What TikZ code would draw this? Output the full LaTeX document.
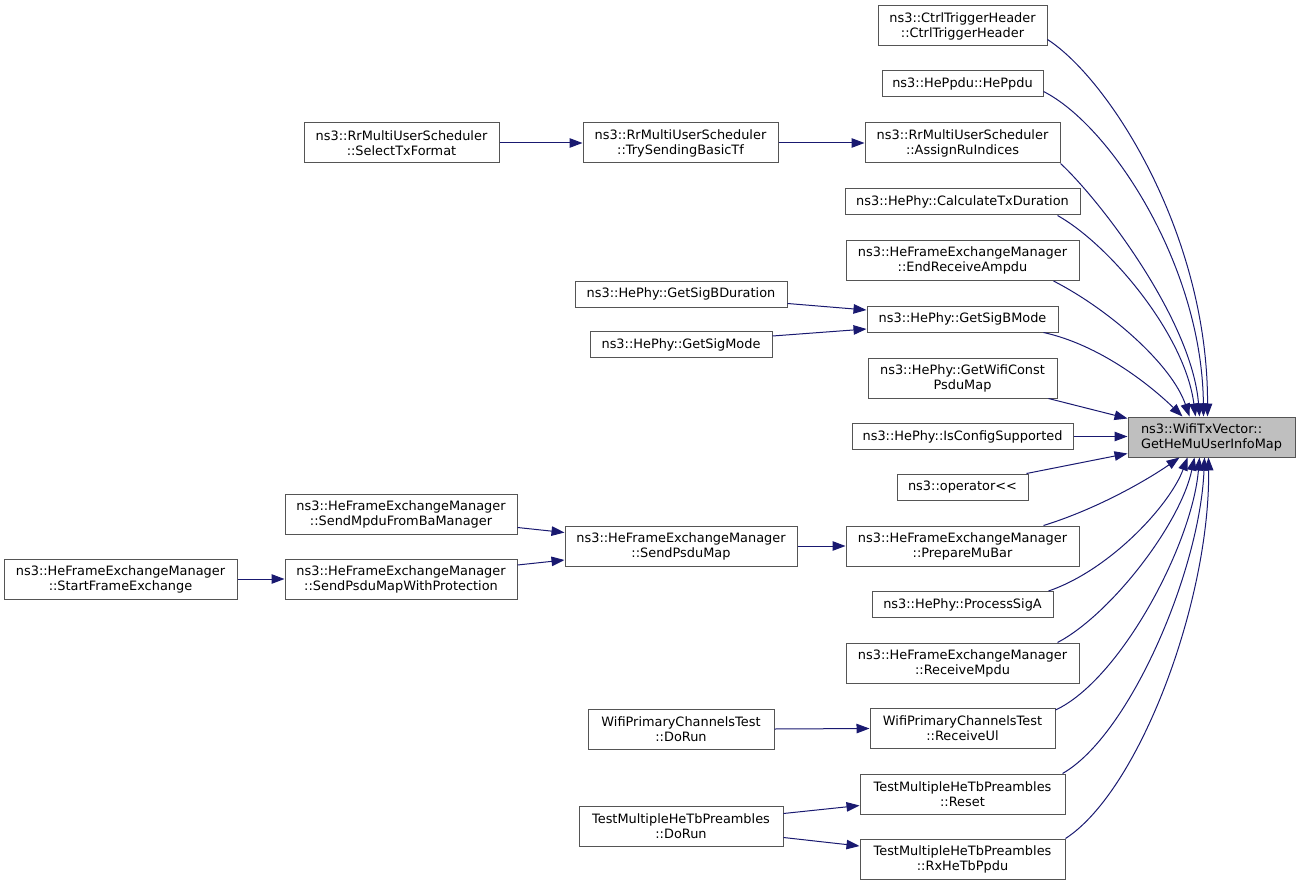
\documentclass[tikz,border=0pt]{standalone}
\usepackage{fontspec}
\setmainfont{DejaVu Sans}
\usetikzlibrary{arrows.meta,calc}
\definecolor{edgec}{HTML}{191970}
\definecolor{boxc}{HTML}{555555}
\definecolor{rootfill}{HTML}{BFBFBF}
\tikzset{
  fn/.style={draw=boxc, line width=1pt, fill=white, inner sep=0pt, align=center,
    font=\fontsize{12.9}{15}\selectfont, text=black},
  root/.style={fn, fill=rootfill, align=left},
  call/.style={draw=edgec, line width=1pt, -{Triangle[length=13pt,width=9.5pt]}}
}
\begin{document}
\begin{tikzpicture}[x=1pt,y=-1pt]
\useasboundingbox (0,0) rectangle (1300,885);
% target
\node[root, minimum width=167pt, minimum height=40pt] (t) at (1211.5,437) {ns3::WifiTxVector::\\GetHeMuUserInfoMap};
% right column
\node[fn, minimum width=169pt, minimum height=40pt] (ctrl) at (962.5,26) {ns3::CtrlTriggerHeader\\::CtrlTriggerHeader};
\node[fn, minimum width=161pt, minimum height=26pt] (heppdu) at (962.5,84) {ns3::HePpdu::HePpdu};
\node[fn, minimum width=195pt, minimum height=40pt] (assign) at (962.5,143) {ns3::RrMultiUserScheduler\\::AssignRuIndices};
\node[fn, minimum width=235pt, minimum height=26pt] (calc) at (962.5,202) {ns3::HePhy::CalculateTxDuration};
\node[fn, minimum width=233pt, minimum height=40pt] (endrecv) at (962.5,260.5) {ns3::HeFrameExchangeManager\\::EndReceiveAmpdu};
\node[fn, minimum width=191pt, minimum height=26pt] (sigb) at (962.5,319) {ns3::HePhy::GetSigBMode};
\node[fn, minimum width=189pt, minimum height=40pt] (const) at (962.5,378) {ns3::HePhy::GetWifiConst\\PsduMap};
\node[fn, minimum width=221pt, minimum height=26pt] (isconf) at (962.5,436.5) {ns3::HePhy::IsConfigSupported};
\node[fn, minimum width=131pt, minimum height=26pt] (oper) at (962.5,487) {ns3::operator<\kern0pt<};
\node[fn, minimum width=233pt, minimum height=40pt] (prep) at (962.5,546) {ns3::HeFrameExchangeManager\\::PrepareMuBar};
\node[fn, minimum width=181pt, minimum height=26pt] (procA) at (962.5,604.5) {ns3::HePhy::ProcessSigA};
\node[fn, minimum width=233pt, minimum height=40pt] (recvM) at (962.5,663) {ns3::HeFrameExchangeManager\\::ReceiveMpdu};
\node[fn, minimum width=185pt, minimum height=40pt] (recvUl) at (962.5,728.5) {WifiPrimaryChannelsTest\\::ReceiveUl};
\node[fn, minimum width=205pt, minimum height=40pt] (reset) at (962.5,794) {TestMultipleHeTbPreambles\\::Reset};
\node[fn, minimum width=205pt, minimum height=40pt] (rxhe) at (962.5,859) {TestMultipleHeTbPreambles\\::RxHeTbPpdu};
% middle column
\node[fn, minimum width=195pt, minimum height=40pt] (try) at (680.5,143) {ns3::RrMultiUserScheduler\\::TrySendingBasicTf};
\node[fn, minimum width=212pt, minimum height=26pt] (sigbdur) at (681,294) {ns3::HePhy::GetSigBDuration};
\node[fn, minimum width=182pt, minimum height=26pt] (sigmode) at (681,344.5) {ns3::HePhy::GetSigMode};
\node[fn, minimum width=232pt, minimum height=40pt] (sendpsdu) at (681,546) {ns3::HeFrameExchangeManager\\::SendPsduMap};
\node[fn, minimum width=186pt, minimum height=40pt] (wpdorun) at (681,729) {WifiPrimaryChannelsTest\\::DoRun};
\node[fn, minimum width=204pt, minimum height=40pt] (tmdorun) at (681,826) {TestMultipleHeTbPreambles\\::DoRun};
% left columns
\node[fn, minimum width=195pt, minimum height=40pt] (select) at (401.5,143) {ns3::RrMultiUserScheduler\\::SelectTxFormat};
\node[fn, minimum width=232pt, minimum height=40pt] (sendmpdu) at (401,514) {ns3::HeFrameExchangeManager\\::SendMpduFromBaManager};
\node[fn, minimum width=232pt, minimum height=40pt] (sendprot) at (401,579) {ns3::HeFrameExchangeManager\\::SendPsduMapWithProtection};
\node[fn, minimum width=233pt, minimum height=40pt] (start) at (120.5,579) {ns3::HeFrameExchangeManager\\::StartFrameExchange};

% straight edges on the left
\draw[call] (select.east) -- (try.west);
\draw[call] (try.east) -- (assign.west);
\draw[call] ($(sigbdur.south east)+(0,-4)$) -- ($(sigb.west)+(0,-9)$);
\draw[call] ($(sigmode.east)+(0,-8.5)$) -- ($(sigb.west)+(0,10)$);
\draw[call] ($(sendmpdu.east)+(0,13.5)$) -- ($(sendpsdu.west)+(0,-13.5)$);
\draw[call] ($(sendprot.east)+(0,-14)$) -- ($(sendpsdu.west)+(0,14)$);
\draw[call] (start.east) -- (sendprot.west);
\draw[call] (sendpsdu.east) -- (prep.west);
\draw[call] (wpdorun.east) -- (recvUl.west);
\draw[call] ($(tmdorun.east)+(0,-12.5)$) -- ($(reset.west)+(0,11.5)$);
\draw[call] ($(tmdorun.east)+(0,11.5)$) -- ($(rxhe.west)+(0,-13)$);

% edges into the target from above
\draw[call] ($(ctrl.south east)+(0,-7)$) .. controls (1110,80) and (1208,235) .. ($(t.north west)+(80,0)$);
\draw[call] ($(heppdu.south east)+(0,-6)$) .. controls (1110,125) and (1202,265) .. ($(t.north west)+(76,0)$);
\draw[call] (assign.south east) .. controls (1100,200) and (1192,320) .. ($(t.north west)+(72,0)$);
\draw[call] ($(calc.south east)+(-23,0)$) .. controls (1110,245) and (1185,335) .. ($(t.north west)+(68,0)$);
\draw[call] ($(endrecv.south east)+(-26,0)$) .. controls (1110,310) and (1172,365) .. ($(t.north west)+(62,0)$);
\draw[call] ($(sigb.south east)+(-15,0)$) .. controls (1100,345) and (1150,385) .. ($(t.north west)+(55,0)$);
\draw[call] ($(const.south east)+(-9,0)$) -- ($(t.north west)+(0,2)$);
\draw[call] (isconf.east) -- (isconf.east -| t.west);
\draw[call] ($(oper.north east)+(-2,0)$) -- ($(t.south west)+(0,-4)$);
% edges into the target from below
\draw[call] ($(prep.north east)+(-36,0)$) .. controls (1100,508) and (1150,478) .. ($(t.south west)+(52,0)$);
\draw[call] ($(procA.north east)+(-5,0)$) .. controls (1110,570) and (1170,505) .. ($(t.south west)+(60,0)$);
\draw[call] ($(recvM.north east)+(-22,0)$) .. controls (1110,615) and (1180,525) .. ($(t.south west)+(67,0)$);
\draw[call] ($(recvUl.north east)+(0,2)$) .. controls (1120,680) and (1192,545) .. ($(t.south west)+(72,0)$);
\draw[call] ($(reset.north east)+(-3,0)$) .. controls (1130,735) and (1200,570) .. ($(t.south west)+(77,0)$);
\draw[call] (rxhe.north east) .. controls (1140,790) and (1210,600) .. ($(t.south west)+(81,0)$);
\end{tikzpicture}
\end{document}
